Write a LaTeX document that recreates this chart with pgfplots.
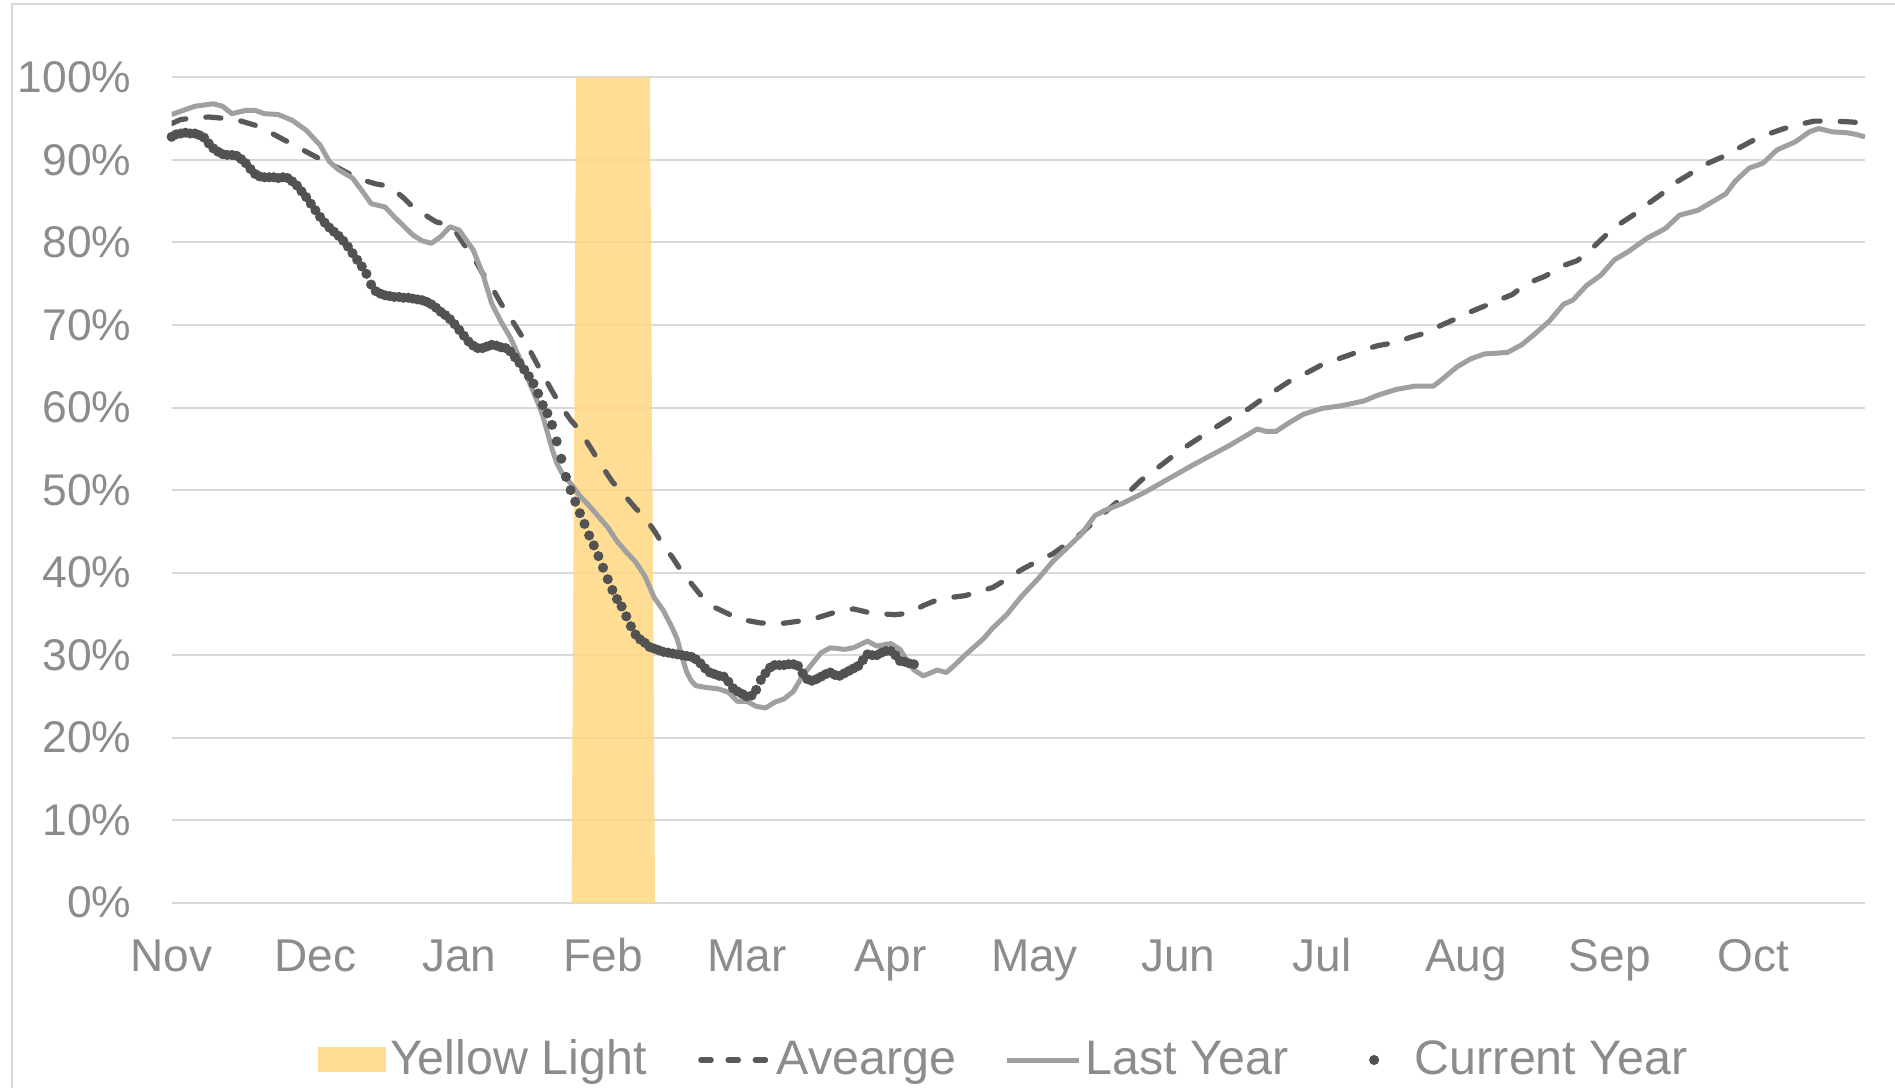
\documentclass[border=0pt]{standalone}
\usepackage{fontspec}
\setmainfont{Liberation Sans}
\usepackage{pgfplots}
\pgfplotsset{compat=1.18}
\definecolor{bandc}{HTML}{FFD783}
\definecolor{avgc}{HTML}{595959}
\definecolor{lastc}{HTML}{A0A0A0}
\definecolor{curc}{HTML}{525252}
\definecolor{gridc}{HTML}{D9D9D9}
\definecolor{textc}{HTML}{8C8C8C}
\begin{document}
\begin{tikzpicture}
\begin{axis}[
  scale only axis,
  width=423.35pt, height=206.35pt,
  xmin=0, xmax=365, ymin=0, ymax=100,
  axis line style={draw=none},
  tick style={draw=none},
  major tick length=0pt,
  ymajorgrids, grid style={gridc, line width=0.5pt},
  ytick={0,10,...,100},
  yticklabel={\pgfmathprintnumber{\tick}\%},
  xtick={0,31,62,93,124,155,186,217,248,279,310,341},
  xticklabels={Nov,Dec,Jan,Feb,Mar,Apr,May,Jun,Jul,Aug,Sep,Oct},
  /pgf/number format/assume math mode=true,
  tick label style={text=textc, inner sep=0pt},
  yticklabel style={font=\fontsize{11.1}{13}\selectfont, anchor=base east, xshift=-9.9pt, yshift=-3.8pt},
  xticklabel style={font=\fontsize{11.5}{13}\selectfont, anchor=base, yshift=-17.25pt},
  legend columns=4,
  legend style={draw=none, fill=none, inner sep=0pt, outer sep=0pt,
    at={(0.0865,-0.2157)}, anchor=south west,
    font=\fontsize{12.1}{14}\selectfont, text=textc,
    cells={anchor=base west},
    nodes={inner sep=0pt},
    /tikz/every odd column/.append style={column sep=1.0pt},
    /tikz/every even column/.append style={column sep=12.2pt}},
]
\addplot[fill=bandc, fill opacity=0.85, draw=none,
  legend image code/.code={\fill[bandc, fill opacity=0.85] (0pt,0.65pt) rectangle (17pt,6.85pt);}]
  coordinates {(86.2,0)(87.2,100)(103.1,100)(104.2,0)} \closedcycle;
\addlegendentry{Yellow Light}
\addplot[avgc, line width=1.3pt, line cap=round, dash pattern=on 3.8pt off 5pt,
  legend image code/.code={\path (0pt,0pt) (18pt,3.7pt); \draw[avgc, line width=1.3pt, line cap=round, dash pattern=on 2.6pt off 4.2pt] (0.7pt,3.7pt) -- (17.3pt,3.7pt);}]
  coordinates {(0,94.4)(2,94.9)(5,95.1)(8,95.2)(12,95.0)(15,94.7)(18,94.2)(21,93.4)(24,92.5)(28,91.3)(31,90.4)(34,89.6)(38,88.4)(41,87.6)(44,87.1)(47,86.8)(50,85.4)(52,84.3)(55,83.2)(57,82.5)(59,82.2)(61,81.5)(63,79.8)(65,78.3)(67,76.3)(69,74.6)(71,72.6)(74,70.0)(76,68.2)(78,66.1)(80,64.0)(82,62.0)(84,60.1)(86,58.5)(88,57.2)(91,54.5)(93,52.7)(95,51.0)(97,49.8)(100,47.8)(102,46.7)(104,45.1)(106,43.3)(108,41.8)(110,40.1)(112,38.7)(114,37.3)(117,35.8)(120,35.0)(123,34.3)(127,33.9)(131,33.8)(135,34.1)(139,34.5)(143,35.2)(147,35.6)(150,35.2)(153,35.0)(156,34.9)(159,35.1)(162,36.0)(165,36.7)(168,37.0)(171,37.2)(174,37.7)(177,38.2)(180,39.2)(183,40.3)(186,41.2)(190,42.3)(193,43.5)(196,44.7)(199,46.3)(202,47.7)(206,49.6)(209,51.2)(213,52.9)(216,54.2)(219,55.4)(222,56.5)(225,57.6)(229,59.0)(232,59.8)(235,61.0)(238,62.1)(241,63.2)(245,64.3)(248,65.2)(251,65.8)(254,66.4)(257,67.0)(260,67.5)(264,67.9)(267,68.5)(270,69.0)(273,69.8)(277,70.8)(280,71.6)(283,72.3)(286,73.0)(289,73.7)(292,75.0)(296,75.9)(300,77.2)(303,77.8)(306,79.2)(309,80.8)(312,82.2)(315,83.3)(318,84.6)(321,85.8)(324,87.2)(327,88.2)(330,89.3)(334,90.3)(337,91.2)(341,92.4)(344,93.1)(347,93.7)(350,94.2)(354,94.7)(358,94.7)(362,94.6)(364,94.5)};
\addlegendentry{Avearge}
\addplot[lastc, line width=1.25pt, line join=round,
  legend image code/.code={\draw[lastc, line width=1.25pt] (0pt,3.7pt) -- (18pt,3.7pt);}]
  coordinates {(0,95.5)(2,95.9)(5,96.5)(9,96.8)(11,96.5)(13,95.6)(16,96.0)(18,96.0)(20,95.6)(23,95.5)(26,94.8)(29,93.6)(32,91.8)(34,89.8)(36,88.8)(39,87.8)(41,86.3)(43,84.7)(46,84.3)(48,83.1)(50,82.0)(52,80.9)(54,80.2)(56,79.9)(58,80.7)(60,81.9)(62,81.5)(65,79.1)(67,76.3)(69,72.6)(71,70.4)(73,68.5)(75,66.0)(77,63.2)(79,60.5)(80,59.0)(81,57.0)(82,55.0)(83,53.3)(84,52.2)(86,50.8)(88,49.3)(90,48.1)(92,46.8)(94,45.5)(96,43.8)(98,42.5)(100,41.3)(102,39.6)(104,37.0)(106,35.4)(108,33.2)(109,31.9)(110,29.8)(111,28.0)(112,26.9)(113,26.3)(115,26.1)(118,25.9)(120,25.5)(122,24.4)(124,24.4)(126,23.8)(128,23.6)(130,24.3)(132,24.7)(134,25.6)(136,27.5)(138,28.9)(140,30.3)(142,30.9)(145,30.7)(147,30.9)(150,31.7)(152,31.1)(155,31.4)(157,30.7)(158,29.8)(160,28.2)(162,27.5)(163,27.7)(165,28.2)(167,27.9)(169,28.9)(171,30.0)(173,31.0)(175,32.0)(177,33.3)(180,34.9)(183,37.0)(187,39.4)(190,41.4)(193,43.0)(196,44.6)(199,46.9)(201,47.5)(205,48.4)(210,49.8)(215,51.4)(220,53.0)(224,54.2)(228,55.4)(231,56.4)(234,57.4)(236,57.1)(238,57.1)(241,58.2)(244,59.2)(248,59.9)(252,60.2)(257,60.8)(260,61.5)(264,62.2)(268,62.6)(272,62.6)(274,63.5)(277,64.9)(280,65.9)(283,66.5)(286,66.6)(288,66.7)(291,67.6)(294,69.0)(297,70.5)(300,72.5)(302,73.0)(305,74.8)(308,76.0)(311,77.9)(314,78.9)(318,80.5)(322,81.7)(325,83.3)(329,83.9)(332,84.9)(335,85.9)(337,87.4)(340,89.0)(343,89.6)(346,91.2)(350,92.2)(353,93.4)(355,93.8)(358,93.4)(361,93.3)(363,93.1)(365,92.8)};
\addlegendentry{Last Year}
\addplot[only marks, mark=*, mark size=1.05pt, color=curc, mark options={fill=curc, draw=none},
  legend image code/.code={\path (0pt,0pt) (18pt,3.7pt); \fill[curc] (9pt,3.7pt) circle (1.05pt);}]
  table[row sep=\\] {
x y\\
0 92.8\\ 1 93.1\\ 2 93.2\\ 3 93.3\\ 4 93.2\\ 5 93.2\\ 6 93.0\\ 7 92.7\\ 8 92.0\\ 9 91.4\\
10 91.0\\ 11 90.7\\ 12 90.6\\ 13 90.6\\ 14 90.5\\ 15 90.1\\ 16 89.6\\ 17 88.9\\ 18 88.3\\ 19 88.0\\
20 87.9\\ 21 87.9\\ 22 87.9\\ 23 87.8\\ 24 87.9\\ 25 87.8\\ 26 87.4\\ 27 86.9\\ 28 86.2\\ 29 85.5\\
30 84.7\\ 31 83.9\\ 32 83.1\\ 33 82.4\\ 34 81.8\\ 35 81.3\\ 36 80.8\\ 37 80.2\\ 38 79.5\\ 39 78.7\\
40 77.9\\ 41 77.1\\ 42 76.2\\ 43 74.9\\ 44 74.1\\ 45 73.8\\ 46 73.6\\ 47 73.5\\ 48 73.4\\ 49 73.4\\
50 73.3\\ 51 73.3\\ 52 73.2\\ 53 73.1\\ 54 73.0\\ 55 72.8\\ 56 72.5\\ 57 72.1\\ 58 71.6\\ 59 71.2\\
60 70.7\\ 61 70.1\\ 62 69.4\\ 63 68.7\\ 64 68.0\\ 65 67.5\\ 66 67.2\\ 67 67.2\\ 68 67.4\\ 69 67.6\\
70 67.5\\ 71 67.3\\ 72 67.2\\ 73 66.8\\ 74 66.1\\ 75 65.4\\ 76 64.6\\ 77 63.8\\ 78 62.9\\ 79 61.7\\
80 60.3\\ 81 59.3\\ 82 57.9\\ 83 55.9\\ 84 53.8\\ 85 51.6\\ 86 50.0\\ 87 48.6\\ 88 47.2\\ 89 45.9\\
90 44.5\\ 91 43.3\\ 92 42.0\\ 93 40.6\\ 94 39.2\\ 95 37.9\\ 96 36.8\\ 97 35.9\\ 98 34.7\\ 99 33.5\\
100 32.5\\ 101 31.9\\ 102 31.5\\ 103 31.0\\ 104 30.8\\ 105 30.6\\ 106 30.4\\ 107 30.3\\ 108 30.2\\ 109 30.1\\
110 30.0\\ 111 29.9\\ 112 29.8\\ 113 29.5\\ 114 29.0\\ 115 28.4\\ 116 27.9\\ 117 27.7\\ 118 27.5\\ 119 27.4\\
120 26.8\\ 121 26.0\\ 122 25.6\\ 123 25.3\\ 124 25.0\\ 125 25.1\\ 126 25.8\\ 127 27.0\\ 128 27.8\\ 129 28.5\\
130 28.8\\ 131 28.8\\ 132 28.8\\ 133 28.9\\ 134 28.9\\ 135 28.7\\ 136 27.8\\ 137 27.1\\ 138 26.9\\ 139 27.1\\
140 27.4\\ 141 27.7\\ 142 27.9\\ 143 27.6\\ 144 27.5\\ 145 27.8\\ 146 28.1\\ 147 28.4\\ 148 28.7\\ 149 29.4\\
150 30.1\\ 151 30.0\\ 152 30.0\\ 153 30.3\\ 154 30.5\\ 155 30.5\\ 156 30.0\\ 157 29.3\\ 158 29.2\\ 159 29.0\\
160 28.9\\
};
\addlegendentry{Current Year}
\end{axis}
\draw[gridc, line width=0.5pt] (-39.9pt,-46.3pt) -- (-39.9pt,224.7pt) -- (430.85pt,224.7pt);
\pgfresetboundingbox
\path[use as bounding box] (-42.9pt,-46.3pt) rectangle (430.85pt,225.7pt);
\end{tikzpicture}
\end{document}
